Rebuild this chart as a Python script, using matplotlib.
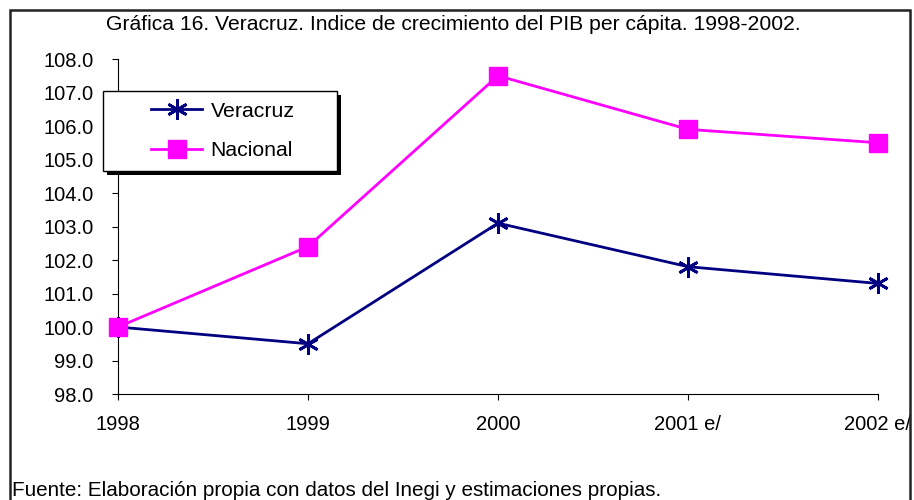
import matplotlib
matplotlib.use("Agg")
import matplotlib.pyplot as plt
from matplotlib.patches import Rectangle
import numpy as np

plt.rcParams['font.family'] = ['Liberation Sans', 'DejaVu Sans']

years = ['1998', '1999', '2000', '2001 e/', '2002 e/']
veracruz = [100.0, 99.5, 103.1, 101.8, 101.3]
nacional = [100.0, 102.4, 107.5, 105.9, 105.5]
yticks = np.arange(98.0, 108.1, 1.0)

fs = 14.5

fig = plt.figure(figsize=(9.14, 5.0), dpi=100)
ax = fig.add_axes([118/914, 1 - 394/500, (878 - 118)/914, (394 - 59)/500])

x = np.arange(len(years))
l1, = ax.plot(x, veracruz, color='#000080', lw=2, marker=(6, 2, 0),
              markersize=15, markeredgewidth=2, clip_on=False, zorder=3,
              label='Veracruz')
l2, = ax.plot(x, nacional, color='#ff00ff', lw=2, marker='s',
              markersize=12.5, markeredgecolor='#ff00ff', clip_on=False, zorder=4,
              label='Nacional')

ax.set_xlim(0, len(years) - 1)
ax.set_ylim(98, 108)
ax.set_xticks(x)
ax.set_xticklabels(years, fontsize=fs)
ax.set_yticks(yticks)
ax.set_yticklabels([f'{v:.1f}' for v in yticks], fontsize=fs)
ax.tick_params(axis='y', direction='out', length=4.3, pad=13.5)
ax.tick_params(axis='x', direction='out', length=4.3, pad=10.5)
for s in ['top', 'right']:
    ax.spines[s].set_visible(False)

# legend box with black shadow, as in the excel chart
fig.add_artist(Rectangle((107/914, 1 - 175/500), 234/914, 80/500, transform=fig.transFigure,
                         facecolor='black', edgecolor='black', lw=0, zorder=4.9))
fig.add_artist(Rectangle((103/914, 1 - 171/500), 234/914, 80/500, transform=fig.transFigure,
                         facecolor='white', edgecolor='black', lw=1, zorder=5))
leg = fig.legend(handles=[l1, l2], loc='center',
                 bbox_to_anchor=((103 + 120)/914, 1 - 131/500),
                 frameon=False, fontsize=15.3, handlelength=2.4, handletextpad=0.4,
                 labelspacing=0.95, borderpad=0)
leg.set_zorder(6)

fig.text(453/914, 1 - 25/500,
         'Gráfica 16. Veracruz. Indice de crecimiento del PIB per cápita. 1998-2002.',
         ha='center', va='center', fontsize=15.2)
fig.text(12/914, 1 - 496/500,
         'Fuente: Elaboración propia con datos del Inegi y estimaciones propias.',
         ha='left', va='baseline', fontsize=14.9)

# outer frame
fig.add_artist(Rectangle((10/914, -0.02), 900/914, 1.0, transform=fig.transFigure,
                         fill=False, edgecolor='#222222', lw=1.8, zorder=10))

fig.savefig('out.png', dpi=100)
